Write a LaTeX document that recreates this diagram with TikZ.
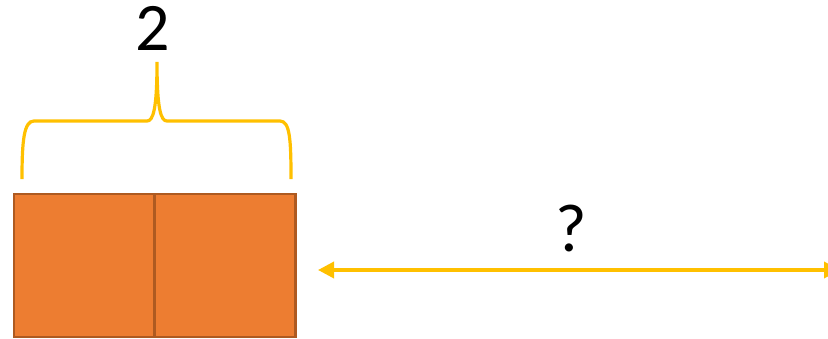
\documentclass[tikz,border=0pt]{standalone}
\usepackage{fontspec}
\setmainfont{Carlito}
\usetikzlibrary{arrows.meta}
\definecolor{boxfill}{HTML}{ED7D31}
\definecolor{boxline}{HTML}{AE5A21}
\definecolor{gold}{HTML}{FFC000}
\tikzset{
  unitbox/.style={draw=boxline, fill=boxfill, line width=2.5pt, minimum width=141pt, minimum height=143pt, inner sep=0pt, outer sep=0pt},
  bracestyle/.style={draw=gold, line width=3.2pt},
  lenarrow/.style={draw=gold, line width=3.5pt, arrows={Triangle[length=16pt,width=16pt]-Triangle[length=16pt,width=16pt]}},
  bigtext/.style={font=\fontsize{68}{74}\selectfont, inner sep=0pt}
}
\begin{document}
\begin{tikzpicture}[x=1pt,y=-1pt]
\clip (0,0) rectangle (828,338);
\useasboundingbox (0,0) rectangle (828,338);
\node[unitbox] (b1) at (84.5,265.5) {};
\node[unitbox] (b2) at (225,265.5) {};
\draw[bracestyle] (22,179) .. controls (22,140) and (24,121) .. (34,121) -- (147,121) .. controls (153,121) and (157,110) .. (157,62)
  .. controls (157,110) and (161,121) .. (167,121) -- (280,121) .. controls (290,121) and (291,140) .. (291,179);
\node[bigtext] (two) at (153,28) {2};
\node[bigtext] (q) at (571,229) {?};
\coordinate (aL) at (318,270);
\coordinate (aR) at (840,270);
\draw[lenarrow] (aL) -- (aR);
\end{tikzpicture}
\end{document}
